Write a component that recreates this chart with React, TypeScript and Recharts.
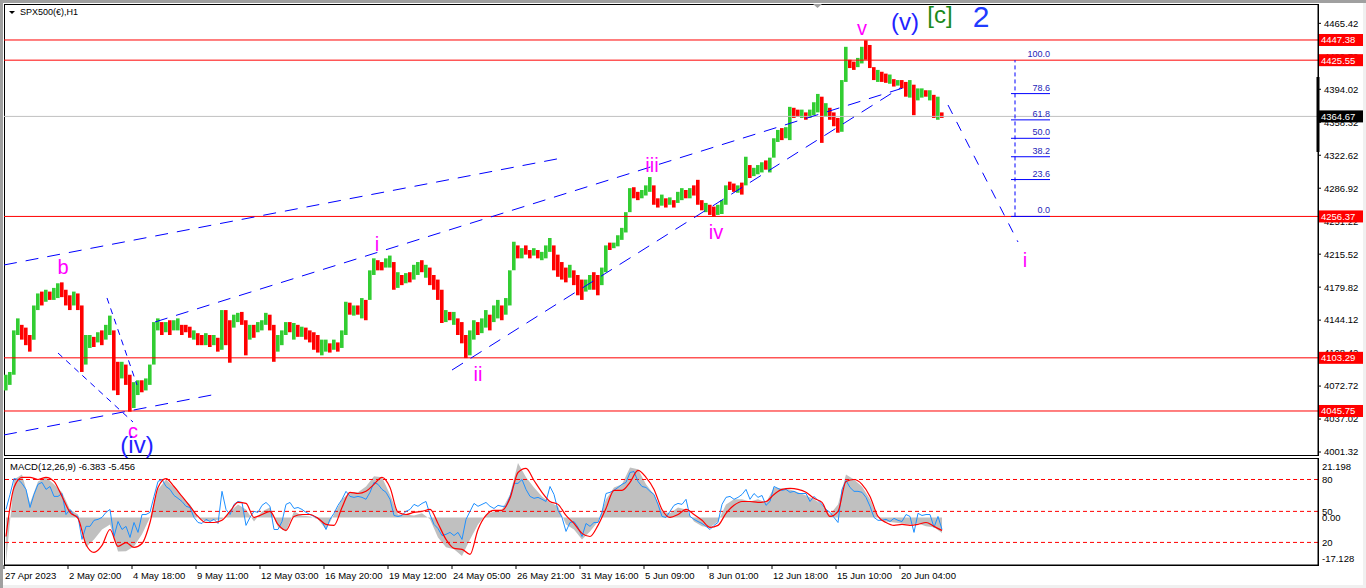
import React from 'react';
import { ComposedChart, Bar, Cell, Line, Area, XAxis, YAxis, ReferenceLine, ReferenceDot } from 'recharts';

const FONT = '"Liberation Sans", Arial, sans-serif';

// ---- H1 price bars (one entry per 4-hour slot of the picture), high / low / direction ----
const priceHigh = [
  4085, 4088, 4133, 4146, 4139, 4136, 4128, 4160, 4173, 4175,
  4177, 4175, 4179, 4184, 4185, 4177, 4171, 4175, 4173, 4160,
  4128, 4128, 4126, 4131, 4133, 4139, 4149, 4133, 4099, 4099,
  4096, 4085, 4077, 4079, 4079, 4081, 4096, 4142, 4146, 4142,
  4142, 4144, 4144, 4146, 4139, 4139, 4137, 4133, 4130, 4128,
  4130, 4128, 4128, 4125, 4155, 4155, 4144, 4150, 4152, 4153,
  4144, 4139, 4139, 4142, 4144, 4152, 4150, 4139, 4128, 4133,
  4142, 4142, 4141, 4139, 4137, 4136, 4133, 4131, 4128, 4123,
  4123, 4119, 4123, 4120, 4133, 4164, 4163, 4160, 4160, 4168,
  4166, 4198, 4211, 4209, 4207, 4211, 4214, 4207, 4196, 4193,
  4195, 4196, 4204, 4207, 4209, 4204, 4201, 4193, 4188, 4177,
  4155, 4153, 4153, 4146, 4142, 4128, 4133, 4144, 4142, 4146,
  4155, 4150, 4160, 4166, 4160, 4168, 4198, 4229, 4225, 4222,
  4225, 4220, 4222, 4220, 4218, 4225, 4233, 4225, 4215, 4207,
  4201, 4204, 4198, 4193, 4188, 4188, 4193, 4196, 4193, 4201,
  4225, 4228, 4228, 4236, 4244, 4261, 4287, 4288, 4283, 4285,
  4290, 4299, 4290, 4276, 4280, 4276, 4277, 4274, 4283, 4287,
  4285, 4287, 4290, 4296, 4274, 4271, 4269, 4267, 4269, 4274,
  4290, 4294, 4292, 4290, 4293, 4321, 4312, 4309, 4312, 4315,
  4317, 4320, 4341, 4350, 4352, 4353, 4375, 4374, 4372, 4372,
  4369, 4372, 4380, 4389, 4386, 4379, 4374, 4369, 4363, 4404,
  4440, 4426, 4424, 4428, 4440, 4447, 4442, 4418, 4415, 4413,
  4411, 4410, 4405, 4404, 4404, 4402, 4404, 4399, 4395, 4395,
  4393, 4393, 4388, 4386, 4369,
];
const priceLow = [
  4068, 4074, 4085, 4128, 4123, 4117, 4110, 4123, 4155, 4160,
  4164, 4166, 4166, 4168, 4169, 4160, 4155, 4160, 4155, 4088,
  4096, 4114, 4115, 4120, 4117, 4123, 4128, 4068, 4063, 4081,
  4074, 4045, 4049, 4063, 4066, 4068, 4074, 4096, 4133, 4128,
  4131, 4128, 4133, 4133, 4128, 4131, 4125, 4123, 4117, 4117,
  4117, 4115, 4117, 4110, 4112, 4117, 4098, 4136, 4142, 4139,
  4106, 4123, 4125, 4131, 4133, 4139, 4133, 4099, 4110, 4117,
  4128, 4131, 4123, 4126, 4126, 4123, 4120, 4112, 4109, 4106,
  4110, 4109, 4112, 4110, 4114, 4128, 4150, 4149, 4150, 4146,
  4144, 4166, 4193, 4198, 4198, 4201, 4201, 4177, 4179, 4182,
  4184, 4185, 4188, 4193, 4196, 4190, 4182, 4177, 4166, 4141,
  4142, 4144, 4139, 4128, 4119, 4103, 4106, 4123, 4128, 4130,
  4136, 4133, 4142, 4146, 4144, 4150, 4160, 4198, 4211, 4211,
  4215, 4211, 4214, 4211, 4209, 4211, 4218, 4198, 4191, 4188,
  4185, 4190, 4182, 4171, 4166, 4175, 4177, 4177, 4171, 4182,
  4196, 4220, 4222, 4224, 4231, 4239, 4261, 4276, 4274, 4276,
  4279, 4283, 4269, 4266, 4268, 4266, 4269, 4266, 4271, 4274,
  4276, 4276, 4279, 4269, 4263, 4261, 4258, 4256, 4258, 4259,
  4269, 4285, 4283, 4282, 4280, 4290, 4298, 4300, 4302, 4304,
  4307, 4304, 4320, 4337, 4339, 4341, 4339, 4363, 4364, 4363,
  4361, 4363, 4366, 4369, 4336, 4364, 4361, 4354, 4347, 4348,
  4402, 4417, 4415, 4418, 4422, 4426, 4417, 4404, 4402, 4402,
  4401, 4400, 4397, 4398, 4395, 4386, 4385, 4366, 4382, 4385,
  4386, 4382, 4363, 4361, 4363,
];
const candleUp = [
  1, 1, 1, 1, 0, 0, 0, 1, 1, 0,
  1, 0, 1, 1, 0, 0, 0, 1, 0, 0,
  1, 1, 0, 1, 0, 1, 1, 0, 0, 1,
  0, 0, 1, 1, 0, 1, 1, 1, 1, 0,
  1, 0, 1, 1, 0, 0, 0, 1, 0, 0,
  1, 0, 1, 0, 1, 0, 0, 1, 1, 0,
  0, 1, 0, 1, 1, 1, 0, 0, 1, 1,
  1, 0, 1, 0, 1, 0, 0, 0, 0, 1,
  1, 0, 1, 0, 1, 1, 0, 1, 0, 1,
  0, 1, 1, 0, 0, 1, 1, 0, 1, 0,
  1, 0, 1, 1, 0, 1, 0, 0, 0, 0,
  1, 0, 1, 0, 0, 0, 1, 1, 0, 1,
  1, 0, 1, 1, 0, 1, 1, 1, 0, 1,
  0, 0, 1, 0, 1, 1, 1, 0, 0, 0,
  0, 1, 0, 0, 0, 1, 1, 0, 0, 1,
  1, 0, 1, 1, 1, 1, 1, 0, 0, 1,
  1, 1, 0, 0, 1, 0, 1, 0, 1, 1,
  0, 1, 0, 0, 0, 1, 0, 0, 1, 1,
  1, 0, 0, 1, 0, 1, 0, 1, 1, 1,
  0, 1, 1, 1, 0, 1, 1, 0, 0, 1,
  0, 1, 1, 1, 0, 1, 0, 0, 0, 1,
  1, 0, 0, 1, 1, 0, 0, 0, 1, 0,
  0, 1, 0, 1, 0, 0, 1, 0, 1, 1,
  0, 1, 0, 1, 0,
];

// ---- MACD panel: histogram + signal every 2 slots, blue line every slot ----
const macdHist = [
  -19, 15.7, 17.8, 6, 14.9, 16.6, 13.7, 10.4, 3.3, 1.2,
  -12.4, -9.1, -5, -2.9, -14.1, -14, -12, -7, 0, 11.6,
  15.7, 12.4, 8.3, 5.4, 0, -1.7, -1.2, -0.8, 2.5, 5.4,
  3.3, -1.7, 2.5, 4.1, -4.1, -5.8, 2.5, 0.8, 0.4, -0.8,
  -5, 1.2, 7.5, 10.4, 10.4, 12.8, 17, 16.6, 9.5, 1.2,
  1.2, 0.8, 1.7, -0.8, -8.3, -12.4, -13.2, -16, -9.1, -2.9,
  1.2, 2.5, 3.3, 9.5, 22.5, 16.6, 12.4, 8.7, 6.2, 4.6,
  -2.9, -5, -9.1, -5.8, -1.7, 7.5, 12.4, 13.7, 20.7, 19.9,
  13.7, 9.5, 2.5, 1.7, 4.1, 3.3, -1.7, -3.7, -4.1, -1.7,
  5.4, 7.5, 7.5, 6.6, 7.5, 6.2, 12.4, 12, 11.6, 10.4,
  9.1, 7.5, 5.4, 1.2, 5.4, 17.8, 15.7, 12.8, 7.5, 0,
  -1.7, -2.1, -2.5, -2.9, -2.5, -3.7, -4.1, -6.4,
];
const macdSignal = [
  -7.9, 12.4, 16.6, 16.6, 15.7, 16.6, 14.9, 8.7, 2.1, -0.4,
  -11.2, -14.5, -11.6, -5.0, -12.0, -10.4, -12.4, -10.8, -2.1, 12.4,
  16.1, 12.8, 8.7, 4.6, 0.4, -2.1, -2.1, -1.2, 2.5, 6.2,
  5.8, 0, 1.2, 2.5, -2.9, -5.4, 0.4, 1.2, 1.2, -0.4,
  -2.9, -3.3, 4.1, 10.4, 9.9, 10.8, 13.7, 16.6, 12.4, 2.1,
  1.2, 2.1, 2.5, 3.3, -2.5, -9.1, -12.8, -13.2, -15.3, -5.0,
  0.8, 2.9, 2.9, 7.9, 18.6, 20.3, 15.3, 10.4, 6.6, 5.4,
  0.8, -2.5, -6.6, -7.9, -3.3, 3.7, 11.2, 11.2, 14.5, 19.5,
  16.6, 11.6, 3.3, 0, 1.2, 3.3, 1.2, -1.2, -4.1, -3.3,
  1.7, 5.0, 6.6, 6.6, 6.2, 6.6, 9.5, 11.6, 12.0, 11.6,
  10.4, 7.9, 6.2, 0.4, 2.5, 14.9, 15.7, 13.7, 8.7, 0.4,
  -2.1, -3.3, -2.9, -3.3, -2.9, -2.1, -3.7, -5.4,
];
const macdBlue = [
  3.3, 9.5, 16.1, 15.7, 14.1, 11.6, 4.1, 9.5, 13.7, 14.5,
  11.6, 12.8, 8.7, 8.7, 9.9, 1.2, 3.3, 0.8, 0.4, -9.1,
  -3.7, -3.7, -1.2, -0.8, 0, 2.1, 3.3, -7.9, -1.7, -5.0,
  -3.7, -8.3, -2.1, -6.2, 1.2, 1.2, 2.1, 8.7, 14.9, 15.7,
  12.8, 11.6, 9.1, 7.9, 6.6, 4.6, 4.1, 0, -2.1, -2.5,
  -0.8, -1.7, -0.8, -2.5, 10.8, 3.3, 1.2, 5.4, 6.6, 6.2,
  -3.3, 0, 2.5, 2.1, 5.0, 6.2, 4.6, -5.0, -5.0, -1.7,
  5.4, 6.2, 3.7, 4.1, 3.3, 2.1, 1.2, 0.4, -0.4, -1.7,
  -5.0, -0.8, 1.7, 5.0, 7.5, 10.8, 8.7, 8.3, 8.7, 8.3,
  7.5, 10.4, 14.5, 13.7, 11.6, 10.4, 7.5, 0.8, 0.4, 0.8,
  2.5, 3.3, 5.4, 4.6, 5.8, 6.6, 1.2, -2.9, -4.6, -7.5,
  -7.0, -6.2, -7.5, -6.2, -9.1, -0.8, 2.5, 5.8, 4.6, 5.4,
  6.2, 4.6, 3.7, 5.0, 4.6, 4.6, 8.7, 14.1, 14.1, 15.7,
  11.6, 8.7, 7.9, 8.3, 7.5, 6.6, 12.8, 9.5, 2.9, 0,
  -5.8, -2.1, -1.7, -4.1, -7.9, -2.5, -3.7, -2.1, -2.1, 2.1,
  9.9, 10.4, 11.2, 12.4, 13.7, 14.5, 18.6, 19.0, 14.9, 12.8,
  12.4, 10.8, 9.5, 5.4, 0.4, 0, 2.5, 5.0, 5.8, 5.4,
  7.5, 0.4, -0.8, -1.7, -2.5, -3.7, -5.0, -3.3, -2.1, 5.4,
  8.3, 8.7, 7.5, 8.3, 9.5, 11.6, 7.5, 9.9, 8.3, 9.1,
  5.0, 6.6, 12.8, 12.0, 11.2, 11.6, 10.4, 10.8, 9.9, 9.9,
  9.9, 6.6, 8.7, 7.0, 5.4, 3.3, 2.1, 0, -2.1, 11.6,
  15.3, 12.4, 10.8, 10.8, 10.4, 8.3, 4.6, 0, -1.2, -1.2,
  -0.8, -1.7, -0.4, -1.2, -1.7, 1.2, 0.4, -6.2, 1.7, 0.8,
  1.2, 1.2, -4.1, 0.4, -5.0,
];

// ---- axes ----
const priceTicks = [4465.42, 4429.72, 4394.02, 4358.32, 4322.62, 4286.92, 4251.22, 4215.52, 4179.82, 4144.12, 4108.42, 4072.72, 4037.02, 4001.32];
const timeTickIdx = [0, 16, 32, 48, 64, 80, 96, 112, 128, 144, 160, 176, 192, 208, 224];
const timeTickLabels = ['27 Apr 2023', '2 May 02:00', '4 May 18:00', '9 May 11:00', '12 May 03:00', '16 May 20:00', '19 May 12:00', '24 May 05:00', '26 May 21:00', '31 May 16:00', '5 Jun 09:00', '8 Jun 01:00', '12 Jun 18:00', '15 Jun 10:00', '20 Jun 04:00'];
const macdLevelValues = [21.198, 15.7, 2.5, 0, -10.35, -17.128];
const macdLevelLabels = ['21.198', '80', '50', '0.00', '20', '-17.128'];
const macdDashedLevels = [15.7, 2.5, -10.35];

// ---- horizontal levels ----
const redLevels = [4447.38, 4425.55, 4256.37, 4103.29, 4045.75];
const lastPrice = 4364.67;
const scrollMark = [4407.3, 4326.1];

// ---- fibonacci ----
const fibLabels = ['0.0', '23.6', '38.2', '50.0', '61.8', '78.6', '100.0'];
const fibPrices = [4256.37, 4296.30, 4321.00, 4340.96, 4360.92, 4389.35, 4425.55];
const fibSpan = [251.75, 261.5];
const fibStemX = 252.75;

// ---- trend lines (bar index, price) ----
const trendFromX = [0, 0, 13.5, 25.75, 37.75, 112, 236];
const trendFromY = [4203.8, 4019.8, 4108.5, 4168.1, 4142.1, 4090.1, 4377.0];
const trendToX = [138.25, 52, 32.25, 33.25, 224.75, 224, 253.5];
const trendToY = [4318.6, 4063.1, 4033.8, 4073.9, 4395.4, 4395.4, 4228.7];
const trendDash = ['13 9', '13 9', '6 5', '6 5', '13 9', '13 9', '10 9'];

// ---- wave labels (bar index, price) ----
const waveText = ['b', 'c', '(iv)', 'i', 'ii', 'iii', 'iv', 'v', '(v)', '[c]', '2', 'i'];
const waveX = [14.75, 32.25, 33.25, 93.25, 118.5, 162, 178, 214.5, 225.25, 234, 244.25, 255.25];
const waveY = [4201.6, 4024.1, 4010.0, 4226.5, 4085.8, 4312.1, 4239.5, 4460.4, 4466.9, 4474.5, 4472.3, 4209.2];
const waveKind = ['minor', 'minor', 'inter', 'minor', 'minor', 'minor', 'minor', 'minor', 'inter', 'primary', 'cycle', 'minor'];
const waveStyle: Record<string, { fill: string; size: number }> = {
  minor: { fill: '#ff00ff', size: 20 },
  inter: { fill: '#2323ff', size: 24 },
  primary: { fill: '#1b8a1b', size: 24 },
  cycle: { fill: '#1f3cff', size: 30 },
};

const X_DOMAIN: [number, number] = [0, 328.5];
const PRICE_DOMAIN: [number, number] = [3998.1, 4486.35];
const MACD_DOMAIN: [number, number] = [-19.7, 24.6];
const PRICE_MARGIN = { top: 4, right: 0, left: 4, bottom: 1 };

const priceRows = priceHigh.map((h, i) => ({ x: i + 0.5, range: [priceLow[i], h], up: candleUp[i] }));
const macdRows = macdBlue.map((b, i) => ({
  x: i + 0.5,
  blue: b,
  hist: i % 2 === 0 ? macdHist[i / 2] : null,
  signal: i % 2 === 0 ? macdSignal[i / 2] : null,
}));

const tagLabel = (text: string, bg: string) => (props: any) => {
  const vb = props.viewBox || {};
  const x = (vb.x || 0) + (vb.width || 0);
  const y = vb.y || 0;
  return (
    <g>
      <rect x={x + 1} y={y - 6} width={44} height={12} fill={bg} />
      <text x={x + 3} y={y + 3.5} fontSize={9.5} fill="#ffffff" fontFamily={FONT}>{text}</text>
    </g>
  );
};

const fibLabel = (text: string) => (props: any) => {
  const vb = props.viewBox || {};
  const x = (vb.x || 0) + (vb.width || 0);
  const y = vb.y || 0;
  return (
    <text x={x} y={y - 3} fontSize={9} fill="#2424b8" textAnchor="end" fontFamily={FONT}>{text}</text>
  );
};

const TimeTick = (props: any) => {
  const { x, y, payload } = props;
  const k = timeTickIdx.indexOf(payload.value);
  return (
    <text x={x + 1} y={y + 8} fontSize={9.5} fill="#000" fontFamily={FONT}>{timeTickLabels[k]}</text>
  );
};

const MacdTick = (props: any) => {
  const { x, y, payload } = props;
  const k = macdLevelValues.indexOf(payload.value);
  return (
    <text x={x} y={y + 3.5} fontSize={9.5} fill="#000" fontFamily={FONT}>{macdLevelLabels[k]}</text>
  );
};

export default function App() {
  return (
    <div style={{ position: 'fixed', left: 0, top: 0, width: 1366, height: 588, background: '#f0f0f0', overflow: 'hidden', fontFamily: FONT }}>
      <div style={{ position: 'absolute', left: 0, top: 0, width: 1366, height: 3, background: '#a0a0a0' }} />
      <div style={{ position: 'absolute', left: 0, top: 0, width: 3, height: 588, background: '#a0a0a0' }} />
      <div style={{ position: 'absolute', left: 3, top: 3, width: 1360, height: 582, background: '#ffffff' }} />
      <div style={{ position: 'absolute', left: 4, top: 4, width: 1315, height: 452, border: '1px solid #000', boxSizing: 'border-box' }} />
      <div style={{ position: 'absolute', left: 4, top: 458, width: 1315, height: 108, border: '1px solid #000', boxSizing: 'border-box' }} />

      <div style={{ position: 'absolute', left: 0, top: 0 }}>
        <ComposedChart width={1366} height={458} data={priceRows} margin={{ ...PRICE_MARGIN, bottom: 3 }}>
          <XAxis dataKey="x" type="number" domain={X_DOMAIN} allowDataOverflow hide />
          <YAxis
            orientation="right"
            type="number"
            domain={PRICE_DOMAIN}
            allowDataOverflow
            ticks={priceTicks}
            interval={0}
            width={48}
            tickSize={3}
            tickMargin={3}
            axisLine={{ stroke: '#000' }}
            tickLine={{ stroke: '#000' }}
            tick={{ fontSize: 9.5, fill: '#000', fontFamily: FONT }}
            tickFormatter={(v: number) => v.toFixed(2)}
          />
          <ReferenceLine y={lastPrice} stroke="#c0c0c0" />
          {redLevels.map((p) => (
            <ReferenceLine key={'r' + p} y={p} stroke="#ff0000" strokeWidth={1} />
          ))}
          {trendFromX.map((fx, i) => (
            <ReferenceLine
              key={'t' + i}
              segment={[{ x: fx, y: trendFromY[i] }, { x: trendToX[i], y: trendToY[i] }]}
              stroke="#0000ff"
              strokeWidth={1}
              strokeDasharray={trendDash[i]}
              ifOverflow="visible"
            />
          ))}
          <ReferenceLine
            segment={[{ x: fibStemX, y: fibPrices[0] }, { x: fibStemX, y: fibPrices[fibPrices.length - 1] }]}
            stroke="#0000ff"
            strokeDasharray="4 3"
            ifOverflow="visible"
          />
          {fibPrices.map((p, i) => (
            <ReferenceLine
              key={'f' + i}
              segment={[{ x: fibSpan[0], y: p }, { x: fibSpan[1], y: p }]}
              stroke={i === fibPrices.length - 1 ? 'none' : '#0000ff'}
              ifOverflow="visible"
              label={fibLabel(fibLabels[i])}
            />
          ))}
          <Bar dataKey="range" barSize={4} isAnimationActive={false}>
            {priceRows.map((r, i) => (
              <Cell key={i} fill={r.up ? '#32cd32' : '#ff0000'} />
            ))}
          </Bar>
          {waveText.map((t, i) => (
            <ReferenceDot
              key={'w' + i}
              x={waveX[i]}
              y={waveY[i]}
              r={0}
              ifOverflow="visible"
              shape={(p: any) => (
                <text
                  x={p.cx}
                  y={p.cy}
                  textAnchor="middle"
                  dominantBaseline="central"
                  fontSize={waveStyle[waveKind[i]].size}
                  fill={waveStyle[waveKind[i]].fill}
                  fontFamily={FONT}
                >
                  {t}
                </text>
              )}
            />
          ))}
        </ComposedChart>
      </div>

      {/* price tags drawn above the axis labels, on the same scales */}
      <div style={{ position: 'absolute', left: 0, top: 0 }}>
        <ComposedChart width={1366} height={458} data={priceRows} margin={{ ...PRICE_MARGIN, bottom: 3 }}>
          <XAxis dataKey="x" type="number" domain={X_DOMAIN} allowDataOverflow hide />
          <YAxis
            orientation="right"
            type="number"
            domain={PRICE_DOMAIN}
            allowDataOverflow
            width={48}
            tick={false}
            tickLine={false}
            axisLine={false}
          />
          <ReferenceLine y={lastPrice} stroke="none" label={tagLabel(lastPrice.toFixed(2), '#000000')} />
          {redLevels.map((p) => (
            <ReferenceLine key={'rt' + p} y={p} stroke="none" label={tagLabel(p.toFixed(2), '#ff0000')} />
          ))}
          <ReferenceLine
            segment={[{ x: X_DOMAIN[1], y: scrollMark[0] }, { x: X_DOMAIN[1], y: scrollMark[1] }]}
            stroke="#000"
            strokeWidth={3}
            ifOverflow="visible"
          />
        </ComposedChart>
      </div>

      <div style={{ position: 'absolute', left: 0, top: 458 }}>
        <ComposedChart width={1366} height={127} data={macdRows} margin={{ top: 0, right: 0, left: 4, bottom: 0 }}>
          <XAxis
            dataKey="x"
            type="number"
            domain={X_DOMAIN}
            allowDataOverflow
            ticks={timeTickIdx}
            interval={0}
            height={20}
            tickSize={4}
            tickMargin={2}
            axisLine={{ stroke: '#000' }}
            tickLine={{ stroke: '#000' }}
            tick={<TimeTick />}
          />
          <YAxis
            orientation="right"
            type="number"
            domain={MACD_DOMAIN}
            allowDataOverflow
            ticks={macdLevelValues}
            interval={0}
            width={48}
            tickSize={0}
            tickMargin={4}
            axisLine={{ stroke: '#000' }}
            tickLine={false}
            tick={<MacdTick />}
          />
          <Area
            dataKey="hist"
            type="linear"
            baseValue={0}
            stroke="none"
            fill="#c0c0c0"
            fillOpacity={1}
            connectNulls
            isAnimationActive={false}
            dot={false}
            activeDot={false}
          />
          {macdDashedLevels.map((v) => (
            <ReferenceLine key={'m' + v} y={v} stroke="#ff0000" strokeDasharray="4 3" />
          ))}
          <Line dataKey="blue" type="linear" stroke="#1e90ff" strokeWidth={1} dot={false} activeDot={false} isAnimationActive={false} />
          <Line dataKey="signal" type="monotone" stroke="#ff0000" strokeWidth={1.2} dot={false} activeDot={false} connectNulls isAnimationActive={false} />
        </ComposedChart>
      </div>

      <div style={{ position: 'absolute', left: 20, top: 7, fontSize: 9, lineHeight: '11px', color: '#000', whiteSpace: 'nowrap' }}>SPX500(€),H1</div>
      <svg style={{ position: 'absolute', left: 0, top: 0 }} width={1366} height={20}>
        <polygon points="9,11 15,11 12,14" fill="#000" />
        <polygon points="813,4 822,4 817.5,8" fill="#a0a0a0" />
      </svg>
      <div style={{ position: 'absolute', left: 10, top: 461, fontSize: 9.5, lineHeight: '11px', color: '#000', whiteSpace: 'nowrap' }}>MACD(12,26,9) -6.383 -5.456</div>
    </div>
  );
}
